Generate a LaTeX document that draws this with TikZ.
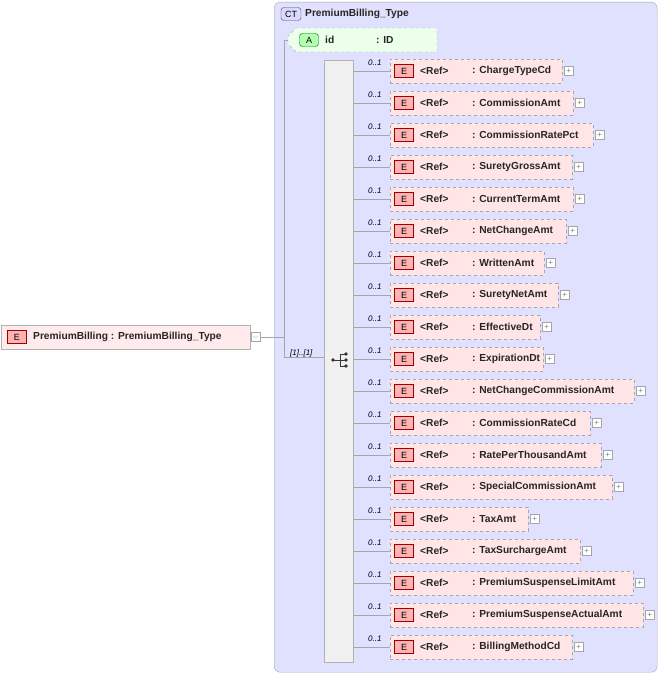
\documentclass[tikz,border=0pt]{standalone}
\usepackage{fontspec}
\setmainfont{Liberation Sans}
\begin{document}
\begin{tikzpicture}[x=1pt,y=-1pt,
  lbl/.style={font=\fontsize{10.2}{12}\selectfont\bfseries,text=black!85,inner sep=0,anchor=west},
  card/.style={font=\fontsize{8}{9}\selectfont\itshape,inner sep=0,anchor=west},
  badge/.style={draw=red!60!black,fill=red!30,font=\fontsize{9}{10}\selectfont,minimum width=19pt,minimum height=13pt,inner sep=0},
  elem/.style={draw=gray!70,dashed,fill=red!10},
  plus/.style={draw=gray!70,fill=white,minimum size=9pt,inner sep=0,font=\fontsize{8}{8}\selectfont,text=gray},
  conn/.style={draw=gray!70,line width=0.6pt}]
\useasboundingbox (0,0) rectangle (662,676);
% CT container
\node[draw=gray!70,rounded corners=6pt,fill=blue!12,minimum width=383pt,minimum height=670pt,anchor=north west] (ct) at (274,2) {};
\node[draw=gray!60!black,rounded corners=3pt,fill=blue!15,font=\fontsize{9}{10}\selectfont,minimum width=20pt,minimum height=13pt,inner sep=0] (ctb) at (291,14) {CT};
\node[lbl] (ctn) at (305,14) {PremiumBilling\_Type};
% attribute
\draw[draw=gray!60,dashed,fill=green!8] (296,28) -- (437,28) -- (437,52) -- (296,52) -- (288,44) -- (288,36) -- cycle;
\node[draw=green!40!black,rounded corners=3pt,fill=green!30,font=\fontsize{9}{10}\selectfont,minimum width=19pt,minimum height=13pt,inner sep=0] (ab) at (309,40) {A};
\node[lbl] (aid) at (325,40) {id};
\node[lbl] (atype) at (376,40) {: ID};
\coordinate (attr) at (288,40);
% left element
\node[draw=gray!60,fill=red!8,minimum width=249pt,minimum height=24pt,anchor=west] (pb) at (1,337) {};
\node[badge] (pbe) at (17,337) {E};
\node[lbl] (pbt) at (33,337) {PremiumBilling : PremiumBilling\_Type};
\node[plus,anchor=west] (pbm) at (251,337) {$-$};
\coordinate (j) at (284,337);
\draw[conn] (pbm.east) -- (j);
\draw[conn] (284,40) -- (284,357);
\draw[conn] (284,40) -- (attr);
% sequence
\node[draw=gray!60,fill=gray!12,minimum width=29pt,minimum height=602pt,anchor=north west,inner sep=0] (seq) at (324,60) {};
\draw[conn] (284,357) -- (seq.west |- 0,357);
\node[card] (card0) at (290,353) {[1]..[1]};
% sequence icon
\draw[black!80,line width=0.8pt] (333,360) -- (340,360) (340,354) -- (340,366) (340,354) -- (346,354) (340,360) -- (346,360) (340,366) -- (346,366);
\fill[black!80] (333,360) circle (1.8) (346,354) circle (1.8) (346,360) circle (1.8) (346,366) circle (1.8);
\foreach \n/\r [count=\i from 0] in {ChargeTypeCd/562,CommissionAmt/573,CommissionRatePct/593,SuretyGrossAmt/572,CurrentTermAmt/573,NetChangeAmt/566,WrittenAmt/544,SuretyNetAmt/558,EffectiveDt/540,ExpirationDt/543,NetChangeCommissionAmt/634,CommissionRateCd/590,RatePerThousandAmt/601,SpecialCommissionAmt/612,TaxAmt/528,TaxSurchargeAmt/580,PremiumSuspenseLimitAmt/633,PremiumSuspenseActualAmt/643,BillingMethodCd/572}{
  \pgfmathsetmacro\yy{71+32*\i}
  \pgfmathsetmacro\ww{\r-390}
  \node[elem,minimum width=\ww pt,minimum height=24pt,anchor=west,inner sep=0] (e\i) at (390,\yy) {};
  \node[badge] (eb\i) at (404,\yy) {E};
  \node[lbl] (er\i) at (420,\yy) {<Ref>};
  \node[lbl] (en\i) at (472,\yy) {: \n};
  \node[plus,anchor=west] (ep\i) at (\r+2,\yy) {+};
  \draw[conn] (seq.east |- e\i.west) -- (e\i.west);
  \node[card] (ec\i) at (368,\yy-8) {0..1};
}
\end{tikzpicture}
\end{document}
